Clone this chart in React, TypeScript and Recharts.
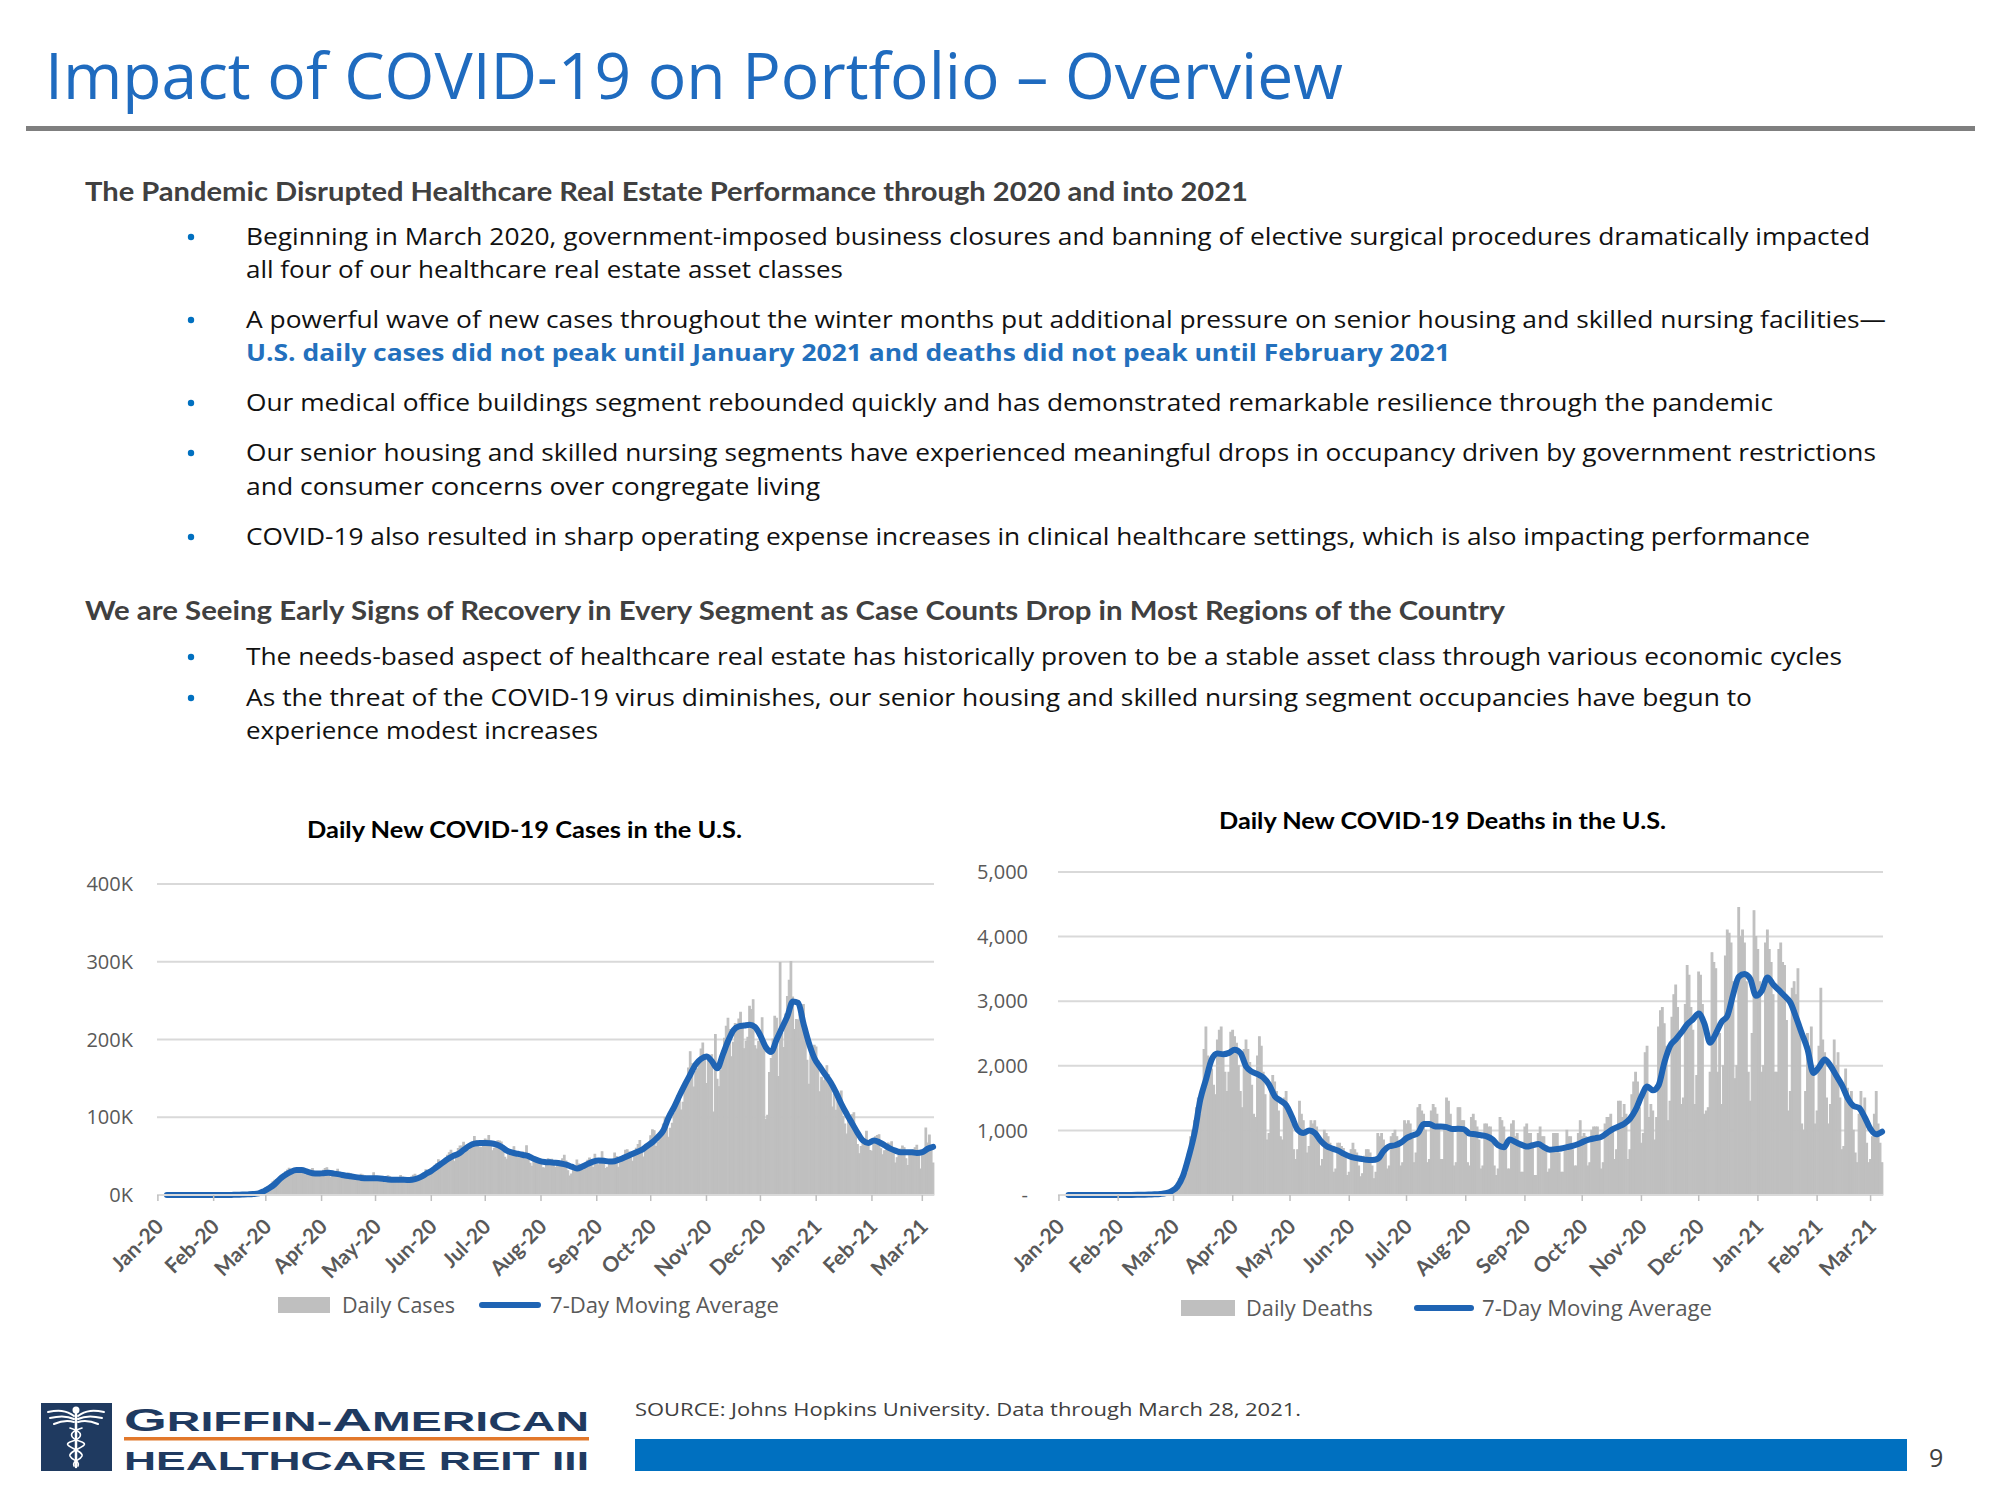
import React from 'react';
import { ComposedChart, Bar, Line, XAxis, YAxis, CartesianGrid } from 'recharts';

const FONT = '"Open Sans", "Noto Sans", sans-serif';
const HEAD = 'Lato, "Open Sans", sans-serif';
const LOGO = '"Liberation Sans", Arial, sans-serif';

// ---- axis definitions (day 0 = 22 Jan 2020) ----
const monthTickDays = [0, 31, 60, 91, 121, 152, 182, 213, 244, 274, 305, 335, 366, 397, 425];
const monthLabels = ['Jan-20', 'Feb-20', 'Mar-20', 'Apr-20', 'May-20', 'Jun-20', 'Jul-20', 'Aug-20', 'Sep-20', 'Oct-20', 'Nov-20', 'Dec-20', 'Jan-21', 'Feb-21', 'Mar-21'];
const casesTicks = [0, 100, 200, 300, 400];
const deathsTicks = [0, 1000, 2000, 3000, 4000, 5000];

// moving average readings every 3rd day, first one on day 5 (27 Jan 2020)
const AVG_START_DAY = 5;
const AVG_STEP_DAYS = 3;

// ---- Daily new cases (thousands), 22 Jan 2020 .. 28 Mar 2021 ----
const dailyCasesK = [
  0, 0, 0, 0, 0, 0, 0, 0, 0, 0,
  0, 0, 0, 0, 0, 0, 0, 0, 0, 0, 0, 0, 0, 0, 0, 0, 0, 0, 0, 0, 0, 0, 0, 0, 0, 0, 0, 0, 0,
  0, 0, 0, 0, 0, 0, 0, 0, 0, 0.3, 0.4, 0.5, 0.7, 0.8, 0.8, 1.3, 1.6, 2.8, 4.6, 5.6, 6.8, 9.3, 10.2, 11.1, 13.5, 17.1, 18.8, 19.9, 19.6, 21.4, 24.8,
  26.9, 29.9, 32.1, 34.2, 25.4, 30.0, 31.4, 33.2, 33.9, 35.3, 30.0, 27.4, 25.6, 26.1, 30.1, 32.0, 33.9, 28.9, 26.7, 29.8, 26.4, 28.1, 31.9, 34.0, 35.0, 27.0, 23.0, 24.0, 26.8, 29.5,
  33.1, 29.1, 25.7, 22.5, 23.9, 24.4, 28.2, 27.6, 25.6, 19.8, 18.6, 22.2, 21.5, 26.6, 25.7, 24.6, 19.5, 22.1, 21.3, 23.2, 28.4, 24.1, 22.3, 20.1, 18.8, 17.8, 19.1, 22.5, 24.8, 23.3, 20.2,
  21.8, 20.3, 20.8, 22.3, 25.1, 23.0, 17.9, 17.8, 18.1, 21.0, 23.2, 25.4, 26.6, 20.2, 20.5, 23.7, 26.6, 28.3, 32.3, 31.3, 27.0, 28.3, 34.0, 37.6, 40.1, 45.3, 42.8, 40.9, 39.8, 44.4,
  51.1, 54.4, 57.6, 47.9, 43.4, 48.3, 59.9, 62.9, 62.9, 67.7, 59.2, 60.5, 57.9, 65.1, 68.0, 75.1, 70.1, 63.7, 61.5, 61.5, 62.2, 71.9, 70.8, 76.6, 67.1, 56.8, 60.0, 63.9, 69.6, 69.3, 68.1,
  57.8, 48.6, 46.0, 52.4, 53.6, 57.4, 62.0, 53.5, 48.6, 47.8, 54.9, 55.3, 53.9, 63.3, 52.6, 40.8, 36.9, 48.5, 46.6, 45.1, 46.9, 43.6, 35.1, 34.8, 39.9, 46.5, 45.5, 45.9, 43.6, 35.3, 39.8,
  44.0, 37.8, 46.4, 51.1, 43.8, 31.1, 24.5, 26.8, 34.7, 35.9, 45.0, 39.9, 33.7, 34.8, 38.5, 40.2, 44.6, 47.5, 41.4, 35.4, 52.3, 39.6, 38.9, 45.8, 55.5, 45.6, 34.1, 35.7, 40.5, 44.0,
  45.3, 53.9, 49.3, 35.6, 41.3, 44.8, 50.6, 57.4, 58.0, 55.3, 48.1, 43.2, 52.8, 60.0, 64.8, 70.0, 54.1, 48.8, 58.7, 62.2, 63.0, 76.2, 83.7, 82.7, 62.4, 67.6, 74.9, 79.3, 91.3, 99.3, 86.3,
  74.2, 85.8, 92.1, 104.6, 116.3, 127.5, 123.6, 109.4, 119.3, 139.8, 143.4, 163.2, 184.2, 168.9, 138.7, 158.9, 162.3, 170.3, 187.8, 195.5, 177.8, 143.2, 174.4, 171.8, 180.4, 106.8, 206.5, 148.8, 139.2, 160.1,
  185.5, 201.5, 217.1, 227.4, 212.8, 177.6, 196.5, 220.6, 219.4, 226.3, 235.0, 216.9, 188.1, 197.6, 202.7, 242.6, 238.5, 251.0, 191.9, 187.7, 197.3, 202.9, 227.8, 194.6, 96.9, 102.4, 157.4, 175.6, 200.6, 230.0, 227.3,
  152.3, 299.0, 207.7, 189.6, 232.7, 255.1, 276.2, 300.4, 254.7, 212.7, 225.5, 224.9, 232.2, 235.3, 244.8, 204.0, 173.3, 142.3, 180.9, 189.2, 192.5, 190.4, 173.0, 132.6, 151.3, 147.0, 158.2, 166.3, 154.6, 142.6, 113.0,
  130.0, 108.8, 122.1, 122.1, 133.6, 101.2, 91.2, 78.3, 94.7, 95.3, 103.2, 105.6, 87.7, 64.8, 52.9, 62.4, 69.4, 69.9, 81.9, 67.7, 57.1, 56.2, 71.3, 74.8, 76.4, 77.4, 59.5, 51.6,
  57.0, 57.8, 66.8, 65.6, 68.4, 58.7, 41.0, 47.9, 55.8, 59.0, 63.0, 60.8, 46.4, 37.8, 54.2, 54.6, 58.5, 60.8, 64.0, 51.6, 33.5, 53.1, 53.0, 86.0, 66.7, 77.0, 62.0, 41.0,
];

// 7-day moving average of cases (thousands), every 3rd day from day 5
const casesAvgK = [
  0, 0, 0, 0, 0, 0, 0, 0, 0, 0,
  0, 0, 0.1, 0.3, 0.5, 0.8, 1.2, 2, 5, 9,
  14, 21, 26, 30, 32, 32, 30, 28, 27.5, 28,
  28.5, 27.5, 26.5, 25, 24, 23, 22, 21.5, 21.5, 21.5,
  21, 20, 19.5, 19.5, 19.5, 19.4, 20.5, 23, 27, 31,
  36, 41, 46, 50, 53, 58, 63, 66, 67, 67,
  66.5, 65, 62, 57, 54.5, 53, 51.5, 50, 46.5, 44,
  42.5, 42, 41.5, 40.5, 39, 36.5, 34, 36.5, 40, 43,
  44.5, 44, 43, 43.5, 46, 49, 52, 55, 58, 63,
  68, 74.6, 83, 100, 113, 128, 142, 155, 168, 175,
  178, 172, 163, 180, 198, 212, 217, 218, 219, 216,
  205, 190, 184, 200, 215, 230, 249, 247, 220, 195,
  176, 165, 155, 145, 132, 117, 104, 92, 80, 70,
  67, 70, 68, 64, 60, 57, 55, 55, 55, 54,
  55, 59.5, 62,
];

// ---- Daily new deaths, 22 Jan 2020 .. 28 Mar 2021 ----
const dailyDeaths = [
  0, 0, 0, 0, 0,
  0, 0, 0, 0, 0, 0, 0,
  0, 0, 0, 0, 0, 0, 0,
  0, 0, 0, 0, 0, 0, 0,
  0, 0, 0, 0, 0, 0, 0,
  0, 0, 0, 0, 0, 1, 1,
  2, 5, 3, 2, 1, 3, 2,
  5, 4, 10, 8, 9, 10, 15,
  20, 28, 31, 44, 59, 62, 100,
  139, 172, 249, 251, 351, 447, 331,
  560, 900, 1000, 1150, 1350, 1500, 1250,
  1550, 2250, 2600, 2150, 2050, 1950, 1700,
  1550, 2400, 2550, 2600, 2200, 1900, 1600,
  1900, 2520, 2550, 2450, 2350, 2000, 1600,
  1350, 2250, 2400, 2250, 2050, 1700, 1250,
  1200, 2150, 2450, 2300, 1900, 1550, 850,
  950, 1650, 1850, 1750, 1600, 1300, 900,
  850, 1500, 1600, 1350, 1300, 1100, 700,
  550, 700, 1450, 1250, 1150, 950, 650,
  750, 1150, 1100, 1150, 1050, 800, 450,
  550, 1000, 950, 900, 800, 700, 350,
  400, 800, 800, 750, 720, 650, 300,
  350, 700, 800, 700, 650, 450, 280,
  330, 600, 700, 700, 650, 450, 250,
  350, 950, 900, 950, 850, 750, 400,
  450, 900, 950, 1000, 900, 750, 450,
  500, 1150, 1100, 1150, 1100, 950, 500,
  650, 1350, 1400, 1300, 1250, 1000, 500,
  550, 1300, 1400, 1350, 1250, 1050, 550,
  550, 1050, 1500, 1450, 1250, 1050, 450,
  500, 1350, 1350, 1150, 1150, 1000, 500,
  450, 1200, 1250, 1150, 1050, 850, 400,
  450, 1100, 1100, 1050, 1050, 800, 450,
  300, 400, 1200, 1150, 1050, 750, 400,
  400, 1100, 1150, 900, 950, 750, 350,
  350, 1050, 1100, 950, 950, 750, 300,
  300, 950, 1050, 900, 900, 700, 350,
  400, 700, 950, 950, 950, 650, 350,
  350, 750, 1000, 900, 900, 700, 450,
  450, 950, 1150, 900, 950, 900, 450,
  500, 1000, 1050, 1050, 1050, 850, 400,
  500, 1100, 1200, 1200, 1250, 1050, 550,
  700, 1450, 1450, 1200, 1400, 1250, 550,
  700, 1550, 1750, 1900, 1750, 1350, 800,
  950, 2200, 2300, 1200, 1400, 1300, 850,
  1200, 2600, 2850, 2900, 2650, 2300, 1150,
  1450, 2750, 3100, 3250, 2900, 2450, 1400,
  1500, 2950, 3550, 3400, 2900, 2550, 1400,
  1850, 3450, 3400, 2950, 1250, 1300, 1350,
  1900, 3750, 3600, 3500, 1900, 2500, 1400,
  2000, 3700, 4100, 4050, 3900, 3300, 1800,
  2000, 4450, 4000, 4100, 3900, 3300, 1900,
  1450, 2500, 4400, 4000, 3800, 3300, 1900,
  2000, 3900, 4100, 3800, 3600, 3100, 1900,
  1900, 3800, 3900, 3600, 3550, 2700, 1300,
  1600, 3200, 3300, 3100, 3500, 2500, 1100,
  1000, 1600, 2500, 2300, 2600, 1900, 1100,
  1300, 2300, 3200, 2400, 2200, 1500, 1100,
  1400, 2000, 2400, 2000, 2200, 1500, 700,
  750, 1950, 1650, 1500, 1600, 1000, 650,
  500, 1250, 1600, 1250, 1500, 800, 500,
  550, 900, 1250, 1600, 1100, 800, 500,
];

// 7-day moving average of deaths, every 3rd day from day 5
const deathsAvg = [
  0, 0, 0, 0, 0, 0, 0, 0, 0, 0,
  0, 1, 2, 4, 6, 10, 16, 28, 60, 130,
  300, 600, 960, 1475, 1790, 2100, 2190, 2180, 2200, 2250,
  2200, 1990, 1910, 1870, 1820, 1710, 1530, 1460, 1390, 1210,
  1010, 960, 1000, 960, 840, 760, 720, 690, 640, 600,
  575, 560, 545, 540, 560, 680, 755, 770, 810, 880,
  920, 960, 1100, 1100, 1060, 1060, 1050, 1020, 1025, 1020,
  950, 940, 925, 907, 860, 770, 740, 860, 820, 780,
  750, 770, 788, 740, 700, 710, 720, 740, 760, 790,
  830, 860, 880, 900, 960, 1020, 1060, 1104, 1180, 1320,
  1528, 1680, 1620, 1700, 2050, 2306, 2410, 2520, 2642, 2720,
  2810, 2650, 2357, 2500, 2680, 2772, 3100, 3380, 3420, 3342,
  3083, 3160, 3368, 3260, 3170, 3080, 2980, 2750, 2500, 2254,
  1890, 1980, 2098, 2000, 1850, 1700, 1500, 1380, 1347, 1200,
  1020, 940, 980,
];

type Row = { day: number; daily: number; avg: number | null };

function buildTable(daily: number[], avg: number[]): Row[] {
  return daily.map((v, day) => {
    const k = (day - AVG_START_DAY) / AVG_STEP_DAYS;
    const a = Number.isInteger(k) && k >= 0 && k < avg.length ? avg[k] : null;
    return { day, daily: v, avg: a };
  });
}

const casesTable = buildTable(dailyCasesK, casesAvgK);
const deathsTable = buildTable(dailyDeaths, deathsAvg);

const BAR_GRAY = '#bfbfbf';
const LINE_BLUE = '#1f64b4';
const AXIS_GRAY = '#595959';

const DateTick = (props: any) => {
  const { x, y, payload } = props;
  const idx = monthTickDays.indexOf(payload.value);
  if (idx < 0) return null;
  const ax = x + 7;
  const ay = y + 33;
  return (
    <g>
      <line x1={x} x2={x} y1={y} y2={y + 6} stroke="#bfbfbf" strokeWidth={1.5} />
      <text
        x={ax}
        y={ay}
        textAnchor="end"
        transform={`rotate(-45 ${ax} ${ay})`}
        fill={AXIS_GRAY}
        fontSize={21}
        fontWeight={700}
        fontFamily={HEAD}
      >
        {monthLabels[idx]}
      </text>
    </g>
  );
};

type PanelProps = {
  table: Row[];
  yTicks: number[];
  yMax: number;
  fmt: (v: number) => string;
  left: number;
  top: number;
  width: number;
  height: number;
  margin: { top: number; right: number; bottom: number; left: number };
  yGap: number;
};

function CovidPanel({ table, yTicks, yMax, fmt, left, top, width, height, margin, yGap }: PanelProps) {
  return (
    <div style={{ position: 'absolute', left, top, width, height }}>
      <ComposedChart width={width} height={height} data={table} margin={margin} barCategoryGap={0} barGap={0}>
        <CartesianGrid vertical={false} stroke="#d9d9d9" strokeWidth={2} />
        <XAxis
          dataKey="day"
          type="category"
          ticks={monthTickDays}
          interval={0}
          tick={(p: any) => <DateTick {...p} />}
          tickLine={false}
          tickSize={0}
          tickMargin={0}
          axisLine={{ stroke: '#d9d9d9', strokeWidth: 2 }}
          height={80}
        />
        <YAxis
          type="number"
          domain={[0, yMax]}
          ticks={yTicks}
          interval={0}
          tickFormatter={fmt}
          axisLine={false}
          tickLine={false}
          tickSize={0}
          tickMargin={yGap}
          width={60}
          tick={{ fill: AXIS_GRAY, fontSize: 20, fontFamily: FONT }}
        />
        <Bar dataKey="daily" fill={BAR_GRAY} stroke={BAR_GRAY} strokeWidth={1.1} barSize={3} isAnimationActive={false} />
        <Line
          dataKey="avg"
          type="monotone"
          stroke={LINE_BLUE}
          strokeWidth={6}
          dot={false}
          activeDot={false}
          connectNulls
          strokeLinejoin="round"
          strokeLinecap="round"
          isAnimationActive={false}
        />
      </ComposedChart>
    </div>
  );
}

const BLUE_TITLE = '#1f6bbf';
const BODY = '#111111';
const HEAD_GRAY = '#404040';

const Bullet = ({ y }: { y: number }) => <circle cx={191} cy={y} r={3.2} fill="#0070c0" />;

const BodyLine = ({ y, len, children, fill = BODY, bold = false }: any) => (
  <text
    x={246}
    y={y}
    fontFamily={FONT}
    fontSize={24}
    fontWeight={bold ? 700 : 400}
    fill={fill}
    textLength={len}
    lengthAdjust="spacingAndGlyphs"
  >
    {children}
  </text>
);

const LegendText = ({ x, y, len, children }: any) => (
  <text x={x} y={y} fontFamily={FONT} fontSize={21} fill={AXIS_GRAY} textLength={len} lengthAdjust="spacingAndGlyphs">
    {children}
  </text>
);

export default function App() {
  return (
    <div style={{ position: 'absolute', left: 0, top: 0, width: 2000, height: 1500, background: '#ffffff', overflow: 'hidden' }}>
      <svg width={2000} height={1500} style={{ position: 'absolute', left: 0, top: 0 }}>
        {/* Title */}
        <text x={45} y={99} fontFamily={FONT} fontSize={64} fill={BLUE_TITLE} textLength={1298} lengthAdjust="spacingAndGlyphs">
          Impact of COVID-19 on Portfolio – Overview
        </text>
        <rect x={26} y={126} width={1949} height={5} fill="#7f7f7f" />

        {/* Section 1 */}
        <text x={85} y={201} fontFamily={HEAD} fontSize={26} fontWeight={700} fill={HEAD_GRAY} textLength={1163} lengthAdjust="spacingAndGlyphs">
          The Pandemic Disrupted Healthcare Real Estate Performance through 2020 and into 2021
        </text>
        <Bullet y={237} />
        <BodyLine y={245} len={1624}>Beginning in March 2020, government-imposed business closures and banning of elective surgical procedures dramatically impacted</BodyLine>
        <BodyLine y={278} len={597}>all four of our healthcare real estate asset classes</BodyLine>
        <Bullet y={320} />
        <BodyLine y={328} len={1640}>A powerful wave of new cases throughout the winter months put additional pressure on senior housing and skilled nursing facilities—</BodyLine>
        <BodyLine y={361} len={1204} fill="#2370bd" bold>U.S. daily cases did not peak until January 2021 and deaths did not peak until February 2021</BodyLine>
        <Bullet y={403} />
        <BodyLine y={411} len={1527}>Our medical office buildings segment rebounded quickly and has demonstrated remarkable resilience through the pandemic</BodyLine>
        <Bullet y={453} />
        <BodyLine y={461} len={1630}>Our senior housing and skilled nursing segments have experienced meaningful drops in occupancy driven by government restrictions</BodyLine>
        <BodyLine y={495} len={574}>and consumer concerns over congregate living</BodyLine>
        <Bullet y={537} />
        <BodyLine y={545} len={1564}>COVID-19 also resulted in sharp operating expense increases in clinical healthcare settings, which is also impacting performance</BodyLine>

        {/* Section 2 */}
        <text x={85} y={620} fontFamily={HEAD} fontSize={26} fontWeight={700} fill={HEAD_GRAY} textLength={1420} lengthAdjust="spacingAndGlyphs">
          We are Seeing Early Signs of Recovery in Every Segment as Case Counts Drop in Most Regions of the Country
        </text>
        <Bullet y={657} />
        <BodyLine y={665} len={1596}>The needs-based aspect of healthcare real estate has historically proven to be a stable asset class through various economic cycles</BodyLine>
        <Bullet y={698} />
        <BodyLine y={706} len={1506}>As the threat of the COVID-19 virus diminishes, our senior housing and skilled nursing segment occupancies have begun to</BodyLine>
        <BodyLine y={739} len={352}>experience modest increases</BodyLine>

        {/* Chart titles */}
        <text x={307} y={838} fontFamily={HEAD} fontSize={22} fontWeight={700} fill="#000000" textLength={435} lengthAdjust="spacingAndGlyphs">
          Daily New COVID-19 Cases in the U.S.
        </text>
        <text x={1219} y={829} fontFamily={HEAD} fontSize={22} fontWeight={700} fill="#000000" textLength={447} lengthAdjust="spacingAndGlyphs">
          Daily New COVID-19 Deaths in the U.S.
        </text>

        {/* Legends */}
        <rect x={278} y={1297} width={52} height={16} fill={BAR_GRAY} />
        <LegendText x={342} y={1313} len={113}>Daily Cases</LegendText>
        <line x1={482} x2={538} y1={1305} y2={1305} stroke={LINE_BLUE} strokeWidth={6} strokeLinecap="round" />
        <LegendText x={550} y={1313} len={229}>7-Day Moving Average</LegendText>

        <rect x={1181} y={1300} width={54} height={16} fill={BAR_GRAY} />
        <LegendText x={1246} y={1316} len={127}>Daily Deaths</LegendText>
        <line x1={1417} x2={1471} y1={1308} y2={1308} stroke={LINE_BLUE} strokeWidth={6} strokeLinecap="round" />
        <LegendText x={1482} y={1316} len={230}>7-Day Moving Average</LegendText>

        {/* Footer */}
        <text x={635} y={1416} fontFamily={FONT} fontSize={18} fill={HEAD_GRAY} textLength={666} lengthAdjust="spacingAndGlyphs">
          SOURCE: Johns Hopkins University. Data through March 28, 2021.
        </text>
        <rect x={635} y={1439} width={1272} height={32} fill="#0070c0" />
        <text x={1929} y={1467} fontFamily={FONT} fontSize={25} fill={HEAD_GRAY}>9</text>

        {/* Logo */}
        <rect x={41} y={1403} width={71} height={68} fill="#1f3a60" />
        <g stroke="#ffffff" fill="none" strokeWidth={2} strokeLinecap="round">
          <line x1={76} y1={1409} x2={76} y2={1467} strokeWidth={2.5} />
          <circle cx={76} cy={1410} r={2.5} fill="#ffffff" />
          <path d="M74 1416 C66 1410 58 1410 48 1412" />
          <path d="M74 1419 C66 1415 58 1416 50 1418" />
          <path d="M74 1422 C67 1420 61 1421 54 1424" />
          <path d="M78 1416 C86 1410 94 1410 104 1412" />
          <path d="M78 1419 C86 1415 94 1416 102 1418" />
          <path d="M78 1422 C85 1420 91 1421 98 1424" />
          <path d="M70 1428 C84 1432 84 1438 70 1442 C60 1446 84 1450 82 1456 C80 1461 72 1460 74 1466" strokeWidth={1.6} />
          <path d="M82 1428 C68 1432 68 1438 82 1442 C92 1446 68 1450 70 1456 C72 1461 80 1460 78 1466" strokeWidth={1.6} />
        </g>
        <text x={124} y={1431} fontFamily={LOGO} fontWeight={700} fill="#1f3a60" textLength={465} lengthAdjust="spacingAndGlyphs">
          <tspan fontSize={32}>G</tspan>
          <tspan fontSize={27}>RIFFIN-</tspan>
          <tspan fontSize={32}>A</tspan>
          <tspan fontSize={27}>MERICAN</tspan>
        </text>
        <rect x={124} y={1437} width={465} height={3.5} fill="#e2782b" />
        <text x={124} y={1470} fontFamily={LOGO} fontSize={25} fontWeight={700} fill="#1f3a60" textLength={465} lengthAdjust="spacingAndGlyphs">
          HEALTHCARE REIT III
        </text>
      </svg>

      <CovidPanel
        table={casesTable}
        yTicks={casesTicks}
        yMax={400}
        fmt={(v) => `${v}K`}
        left={0}
        top={860}
        width={960}
        height={425}
        margin={{ top: 24, right: 26, bottom: 10, left: 97 }}
        yGap={24}
      />
      <CovidPanel
        table={deathsTable}
        yTicks={deathsTicks}
        yMax={5000}
        fmt={(v) => (v === 0 ? '-' : v.toLocaleString('en-US'))}
        left={960}
        top={850}
        width={960}
        height={440}
        margin={{ top: 22, right: 37, bottom: 15, left: 38 }}
        yGap={30}
      />
    </div>
  );
}
